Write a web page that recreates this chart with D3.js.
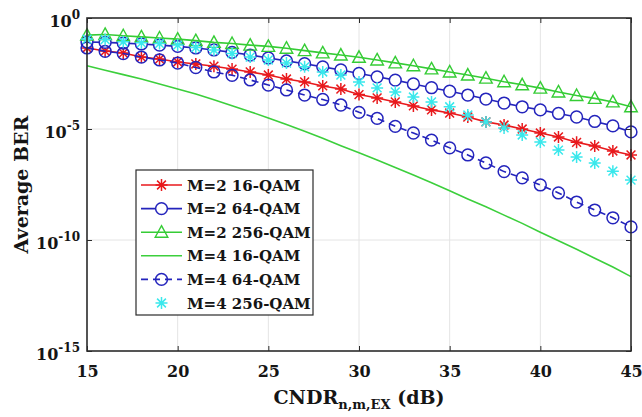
<!DOCTYPE html>
<html>
<head>
<meta charset="utf-8">
<script src="https://cdn.jsdelivr.net/npm/d3@7"></script>
<style>
  body { margin: 0; background: #fff; }
  text { font-family: "DejaVu Serif", serif; font-weight: bold; fill: #151515; }
</style>
</head>
<body>
<div id="chart"></div>
<script>
// CNDR (dB) sample points
var cndr = [15, 16, 17, 18, 19, 20, 21, 22, 23, 24, 25, 26, 27, 28, 29, 30,
            31, 32, 33, 34, 35, 36, 37, 38, 39, 40, 41, 42, 43, 44, 45];

// log10(average BER)
var m2_16qam = [-1.35, -1.49, -1.58, -1.76, -1.85, -1.98, -2.07, -2.17, -2.30, -2.43, -2.57,
                -2.75, -2.88, -3.06, -3.20, -3.45, -3.60, -3.78, -3.96, -4.14, -4.28,
                -4.46, -4.68, -4.82, -5.00, -5.18, -5.36, -5.60, -5.77, -5.99, -6.17];
var m2_64qam = [-1.08, -1.10, -1.13, -1.17, -1.22, -1.28, -1.35, -1.44, -1.55, -1.67, -1.80,
                -1.93, -2.06, -2.20, -2.34, -2.50, -2.65, -2.80, -2.97, -3.14, -3.30,
                -3.47, -3.65, -3.83, -4.00, -4.14, -4.30, -4.46, -4.66, -4.86, -5.13];
var m2_256qam = [-0.77, -0.74, -0.80, -0.85, -0.90, -0.95, -1.02, -1.10, -1.15, -1.22, -1.28,
                 -1.36, -1.47, -1.57, -1.67, -1.77, -1.89, -2.02, -2.15, -2.29, -2.43,
                 -2.57, -2.71, -2.87, -3.01, -3.16, -3.33, -3.49, -3.62, -3.78, -4.00];
var m4_16qam = [-2.15, -2.35, -2.55, -2.75, -2.97, -3.20, -3.42, -3.68, -3.95, -4.22, -4.50,
                -4.80, -5.10, -5.42, -5.75, -6.07, -6.40, -6.73, -7.07, -7.42, -7.78,
                -8.15, -8.50, -8.88, -9.25, -9.65, -10.03, -10.42, -10.82, -11.22, -11.65];
var m4_64qam = [-1.35, -1.50, -1.60, -1.76, -1.89, -2.03, -2.23, -2.43, -2.58, -2.79, -3.02,
                -3.24, -3.47, -3.67, -3.92, -4.25, -4.52, -4.88, -5.18, -5.50, -5.85,
                -6.17, -6.53, -6.92, -7.20, -7.52, -7.88, -8.29, -8.65, -9.00, -9.41];
var m4_256qam = [-0.95, -0.97, -1.07, -1.12, -1.15, -1.22, -1.33, -1.44, -1.60, -1.76, -1.89,
                 -2.03, -2.20, -2.43, -2.57, -2.88, -3.15, -3.33, -3.56, -3.78, -4.00,
                 -4.37, -4.68, -4.95, -5.27, -5.58, -5.95, -6.26, -6.53, -6.90, -7.30];

var xTicks = [15, 20, 25, 30, 35, 40, 45];
var yTicks = [1, 1e-5, 1e-10, 1e-15];
var yTickExp = ["0", "-5", "-10", "-15"];
var seriesNames = ["M=2 16-QAM", "M=2 64-QAM", "M=2 256-QAM", "M=4 16-QAM", "M=4 64-QAM", "M=4 256-QAM"];

var series = [
  {name: seriesNames[0], values: m2_16qam, color: "#e8191c", line: true, dash: null, marker: "star"},
  {name: seriesNames[1], values: m2_64qam, color: "#2424bc", line: true, dash: null, marker: "circle", fill: "#fff"},
  {name: seriesNames[2], values: m2_256qam, color: "#35cc35", line: true, dash: null, marker: "triangle", fill: "none"},
  {name: seriesNames[3], values: m4_16qam, color: "#3ccf3c", line: true, dash: null, marker: null},
  {name: seriesNames[4], values: m4_64qam, color: "#2424bc", line: true, dash: "7,5", marker: "circle", fill: "none"},
  {name: seriesNames[5], values: m4_256qam, color: "#3ae8ec", line: false, dash: null, marker: "star"}
];

var W = 642, H = 417;
var margin = {top: 18, right: 11, bottom: 66, left: 87},
    width = W - margin.left - margin.right,
    height = H - margin.top - margin.bottom;

var svg = d3.select("#chart")
    .append("svg")
    .attr("width", W)
    .attr("height", H);

var g = svg.append("g")
    .attr("transform", "translate(" + margin.left + "," + margin.top + ")");

var x = d3.scaleLinear().domain([15, 45]).range([0, width]);
var y = d3.scaleLog().domain([1e-15, 1]).range([height, 0]);

// grid
g.append("g").selectAll("line")
  .data(xTicks.slice(1, -1))
  .enter().append("line")
    .attr("x1", d => x(d)).attr("x2", d => x(d))
    .attr("y1", 0).attr("y2", height)
    .attr("stroke", "#e4e4e4").attr("stroke-width", 1);
g.append("g").selectAll("line")
  .data(yTicks.slice(1, -1))
  .enter().append("line")
    .attr("x1", 0).attr("x2", width)
    .attr("y1", d => y(d)).attr("y2", d => y(d))
    .attr("stroke", "#e4e4e4").attr("stroke-width", 1);

// curves
var line = d3.line()
    .x((d, i) => x(cndr[i]))
    .y(d => y(Math.pow(10, d)));

function drawMarker(sel, type, color, fill) {
  if (type === "circle") {
    sel.append("circle").attr("r", 5.9)
      .attr("fill", fill || "none").attr("stroke", color).attr("stroke-width", 1.5);
  } else if (type === "triangle") {
    sel.append("path").attr("d", "M0,-6.5L6.3,5L-6.3,5Z")
      .attr("fill", "none").attr("stroke", color).attr("stroke-width", 1.4);
  } else if (type === "star") {
    sel.append("path").attr("d", "M-6,0H6M0,-6V6M-4.4,-4.4L4.4,4.4M-4.4,4.4L4.4,-4.4")
      .attr("stroke", color).attr("stroke-width", 1.5);
  }
}

series.forEach(function(s) {
  if (s.line) {
    g.append("path")
      .datum(s.values)
      .attr("fill", "none")
      .attr("stroke", s.color)
      .attr("stroke-width", 1.6)
      .attr("stroke-dasharray", s.dash)
      .attr("d", line);
  }
  if (s.marker) {
    g.append("g").selectAll("g")
      .data(s.values)
      .enter().append("g")
        .attr("transform", (d, i) => "translate(" + x(cndr[i]) + "," + y(Math.pow(10, d)) + ")")
        .each(function() { drawMarker(d3.select(this), s.marker, s.color, s.fill); });
  }
});

// axes (ticks inward)
var axisColor = "#2b2b2b";
var xAxis = g.append("g")
    .attr("transform", "translate(0," + height + ")")
    .call(d3.axisBottom(x).tickValues(xTicks).tickSizeInner(-5).tickSizeOuter(0).tickPadding(15));
xAxis.selectAll("text").style("font-size", "16px");
g.append("g")
    .call(d3.axisTop(x).tickValues(xTicks).tickSizeInner(-5).tickSizeOuter(0).tickFormat(""));
g.append("g")
    .call(d3.axisLeft(y).tickValues(yTicks).tickSizeInner(-5).tickSizeOuter(0).tickFormat(""));
g.append("g")
    .attr("transform", "translate(" + width + ",0)")
    .call(d3.axisRight(y).tickValues(yTicks).tickSizeInner(-5).tickSizeOuter(0).tickFormat(""));
g.selectAll(".domain").attr("stroke", "none");
g.selectAll(".tick line").attr("stroke", axisColor);

g.append("rect")
  .attr("width", width).attr("height", height)
  .attr("fill", "none").attr("stroke", axisColor).attr("stroke-width", 1.6);

// y tick labels 10^n
var ylab = g.append("g").selectAll("text")
  .data(yTicks)
  .enter().append("text")
    .attr("x", -7)
    .attr("y", d => y(d) + 9)
    .attr("text-anchor", "end")
    .style("font-size", "16px");
ylab.append("tspan").text("10");
ylab.append("tspan")
    .attr("dy", "-8")
    .style("font-size", "12px")
    .text((d, i) => yTickExp[i]);

// axis titles
svg.append("text")
  .attr("transform", "translate(28," + (margin.top + height / 2) + ") rotate(-90)")
  .attr("text-anchor", "middle")
  .style("font-size", "19px")
  .text("Average BER");

var xt = svg.append("text")
  .attr("x", margin.left + width / 2)
  .attr("y", 404)
  .attr("text-anchor", "middle")
  .style("font-size", "19px");
xt.append("tspan").text("CNDR");
xt.append("tspan").attr("dy", 5).style("font-size", "13px").text("n,m,EX");
xt.append("tspan").attr("dy", -5).text(" (dB)");

// legend
var legend = svg.append("g").attr("transform", "translate(136,170)");
legend.append("rect")
  .attr("width", 177).attr("height", 145)
  .attr("fill", "#fff").attr("stroke", axisColor).attr("stroke-width", 1.2);

var rows = legend.selectAll("g.row")
  .data(series)
  .enter().append("g")
    .attr("class", "row")
    .attr("transform", (d, i) => "translate(0," + (15 + i * 23.6) + ")");

rows.filter(d => d.line).append("line")
  .attr("x1", 5).attr("x2", 46)
  .attr("stroke", d => d.color)
  .attr("stroke-width", 1.6)
  .attr("stroke-dasharray", d => d.dash);
rows.each(function(d) {
  if (d.marker) {
    var m = d3.select(this).append("g").attr("transform", "translate(25.5,0)");
    drawMarker(m, d.marker, d.color, d.fill);
  }
});
rows.append("text")
  .attr("x", 51)
  .attr("y", 5.5)
  .style("font-size", "15px")
  .text(d => d.name);
</script>
</body>
</html>
